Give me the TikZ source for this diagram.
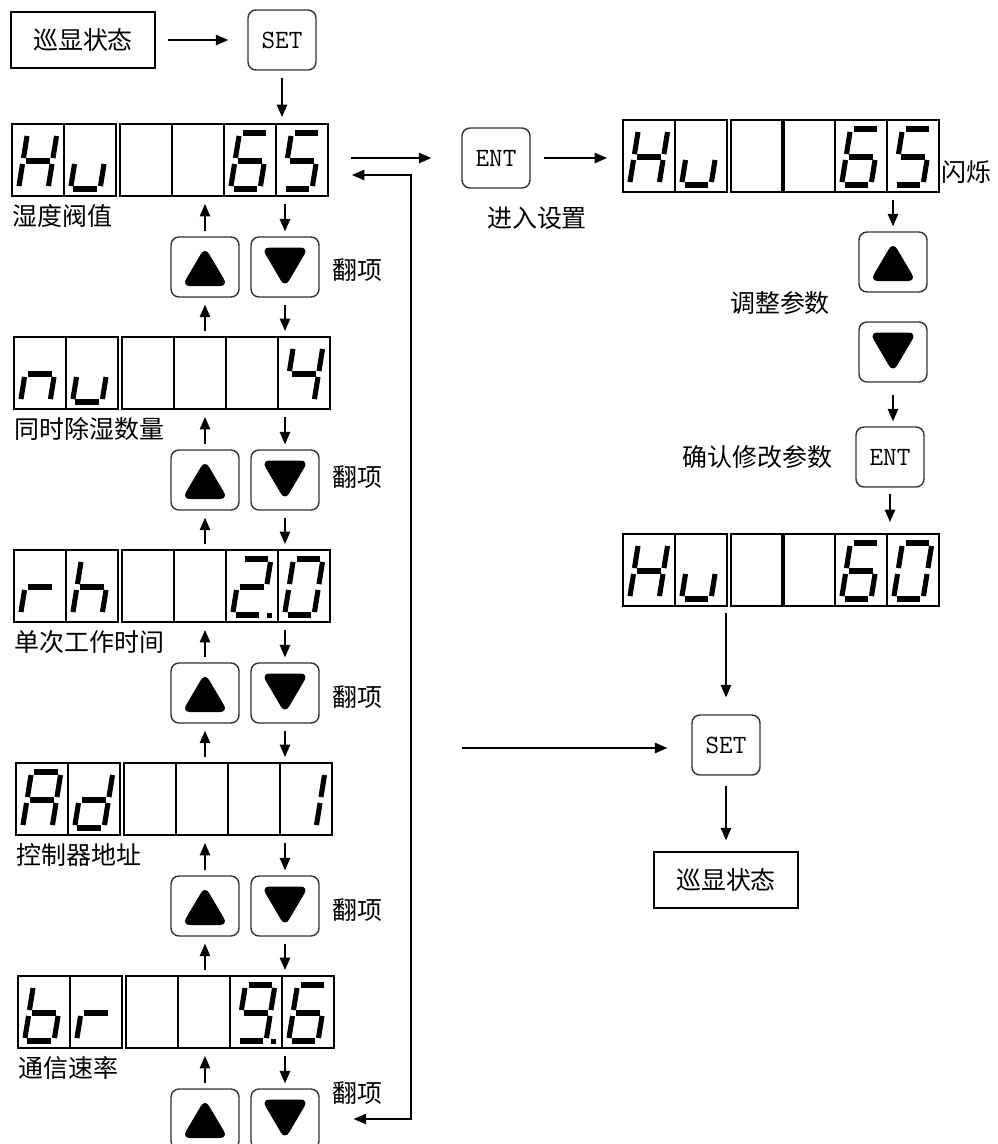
\documentclass[tikz,border=0pt]{standalone}
\usepackage{fontspec}
\setmainfont{Noto Sans CJK SC}
\usetikzlibrary{arrows.meta,positioning}

\newcommand\cjksize{\fontsize{14.2pt}{17pt}\selectfont}
\newcommand\keysize{\fontsize{15pt}{17pt}\selectfont}

% one segment of a seven-segment digit (a..g, p = decimal point)
\newcommand\lcdseg[1]{%
  \if#1a\draw[segline] (TL) -- (TR);\fi
  \if#1b\draw[segline] (TR) -- (MR);\fi
  \if#1c\draw[segline] (MR) -- (BR);\fi
  \if#1d\draw[segline] (BL) -- (BR);\fi
  \if#1e\draw[segline] (ML) -- (BL);\fi
  \if#1f\draw[segline] (TL) -- (ML);\fi
  \if#1g\draw[segline] (ML) -- (MR);\fi
  \if#1p\fill (DP) rectangle ++(5,-5);\fi
}

% display: 2 + 4 cells, top left corner at (#3,#4)
\newcommand\lcd[5][]{%
  \node[lcdbox, anchor=north west] (#2) at (#3,#4) {};
  \draw[lcdline] (#3,#4) rectangle ++(104,72);
  \draw[lcdline] (#3+108,#4) rectangle ++(208,72);
  \draw[lcdline] (#3+52,#4) -- ++(0,72);
  \draw[lcdline,#1] (#3+160,#4) -- ++(0,72);
  \draw[lcdline] (#3+212,#4) -- ++(0,72);
  \draw[lcdline] (#3+264,#4) -- ++(0,72);
  \foreach \cl [count=\i from 0] in {#5} {
    \pgfmathsetmacro\ox{#3+52*\i+(\i<2 ? 0 : 4)}
    \begin{scope}[shift={(\ox,#4)}]
      \coordinate (TL) at (15.5,9);
      \coordinate (TR) at (45,9);
      \coordinate (ML) at (11,37);
      \coordinate (MR) at (40.5,37);
      \coordinate (BL) at (6.5,65);
      \coordinate (BR) at (36,65);
      \coordinate (DP) at (40.5,67.5);
      \foreach \s in \cl {\lcdseg\s}
    \end{scope}
  }
}

\begin{document}
\begin{tikzpicture}[
    x=0.02cm, y=-0.02cm,
    font=\cjksize,
    arr/.style={
        -{Triangle[length=2.5mm,width=2.1mm]},
        line width=0.8pt
    },
    lcdbox/.style={
        minimum width=6.32cm,
        minimum height=1.44cm,
        inner sep=0pt,
        outer sep=0pt
    },
    lcdline/.style={line width=0.8pt},
    thickdiv/.style={line width=1.8pt},
    segline/.style={
        line width=2.9pt,
        shorten <=0.6mm,
        shorten >=0.6mm
    },
    plain/.style={
        draw,
        line width=0.8pt,
        minimum width=2.88cm,
        minimum height=1.12cm,
        inner sep=0pt
    },
    keybase/.style={
        draw=black!80,
        rounded corners=1.6mm,
        minimum width=1.36cm,
        minimum height=1.2cm,
        inner sep=0pt,
        line width=0.8pt
    },
    key/.style={keybase, font=\ttfamily\keysize},
    upkey/.style={
        keybase,
        path picture={
            \fill ([shift={(-0.46cm,-0.38cm)}]path picture bounding box.center)
                -- ++(0.92cm,0cm) -- ++(-0.46cm,0.78cm) -- cycle;
        }
    },
    downkey/.style={
        keybase,
        path picture={
            \fill ([shift={(-0.47cm,0.39cm)}]path picture bounding box.center)
                -- ++(0.94cm,0cm) -- ++(-0.47cm,-0.8cm) -- cycle;
        }
    },
    lbl/.style={inner sep=0pt}
]
\useasboundingbox (0,0) rectangle (998,1144);

% Entry
\node[plain] (idle1) at (83,40) {巡显状态};
\node[key] (set1) at (282,40) {SET};
\draw[arr, shorten <=2.4mm, shorten >=3.8mm] (idle1) -- (set1);

% Parameter list
\lcd{d1}{12}{124}{{b,c,e,f,g},{c,d,e},x,x,{a,c,d,e,f,g},{a,c,d,f,g}}
\lcd{d2}{14}{337}{{c,e,g},{c,d,e},x,x,x,{b,c,f,g}}
\lcd{d3}{14}{550}{{e,g},{c,e,f,g},x,x,{a,b,d,e,g,p},{a,b,c,d,e,f}}
\lcd{d4}{16}{763}{{a,b,c,e,f,g},{b,c,d,e,g},x,x,x,{b,c}}
\lcd{d5}{18}{976}{{c,d,e,f,g},{e,g},x,x,{a,b,c,d,f,g,p},{a,c,d,e,f,g}}

\draw[arr, shorten <=1.4mm, shorten >=1.4mm] (set1) -- (set1 |- d1.north);

\node[lbl, below right=1.7mm and 0mm of d1.south west] (l1) {湿度阀值};
\node[lbl, below right=1.7mm and 0mm of d2.south west] (l2) {同时除湿数量};
\node[lbl, below right=1.7mm and 0mm of d3.south west] (l3) {单次工作时间};
\node[lbl, below right=1.7mm and 0mm of d4.south west] (l4) {控制器地址};
\node[lbl, below right=1.7mm and 0mm of d5.south west] (l5) {通信速率};

% Up / down keys under each display
\foreach \n/\y/\fy in {1/124/146,2/337/140,3/550/147,4/763/147,5/976/117} {
    \node[upkey] (up\n) at (205,\y+143) {};
    \node[downkey] (dn\n) at (285,\y+143) {};
    \node[lbl, anchor=west] (fx\n) at (332,\y+\fy) {翻项};
}

\foreach \n in {1,...,5} {
    \draw[arr, shorten <=1mm, shorten >=1.6mm] (up\n) -- (up\n |- d\n.south);
    \draw[arr, shorten <=1.6mm, shorten >=1mm] (dn\n |- d\n.south) -- (dn\n);
}
\foreach \n/\m in {1/2,2/3,3/4,4/5} {
    \draw[arr, shorten <=1.2mm, shorten >=1.4mm] (up\n |- d\m.north) -- (up\n);
    \draw[arr, shorten <=1.4mm, shorten >=1.2mm] (dn\n) -- (dn\n |- d\m.north);
}

% Return line
\coordinate (back) at (411,175);
\draw[{Triangle[length=2.5mm,width=2.1mm]}-{Triangle[length=2.5mm,width=2.1mm]},
    line width=0.8pt, shorten <=6.8mm, shorten >=4.8mm]
    (dn5) -| (back) -- (d1.east |- back);

% Setting
\node[key] (ent1) at (496,158) {ENT};
\draw[arr, shorten <=4.6mm, shorten >=6mm] (d1.east |- ent1) -- (ent1);
\node[lbl] (l6) at (537,218) {进入设置};

\lcd[thickdiv]{r1}{623}{120}{{b,c,e,f,g},{c,d,e},x,x,{a,c,d,e,f,g},{a,c,d,f,g}}
\draw[arr, shorten <=2.6mm, shorten >=3.2mm] (ent1) -- (ent1 -| r1.west);
\node[lbl, anchor=west] (l7) at (941,172) {闪烁};

\node[upkey] (up6) at (893,262) {};
\node[downkey] (dn6) at (893,352) {};
\draw[arr, shorten <=1.6mm, shorten >=1mm] (up6 |- r1.south) -- (up6);
\node[lbl] (l8) at (780,303) {调整参数};

\node[key] (ent2) at (890,457) {ENT};
\draw[arr, shorten <=2.4mm, shorten >=1mm] (dn6) -- (dn6 |- ent2.north);
\node[lbl, anchor=east] (l9) at (833,457) {确认修改参数};

\lcd[thickdiv]{r2}{623}{534}{{b,c,e,f,g},{c,d,e},x,x,{a,c,d,e,f,g},{a,b,c,d,e,f}}
\draw[arr, shorten <=1.2mm, shorten >=2.4mm] (ent2) -- (ent2 |- r2.north);

% Exit
\node[key] (set2) at (726,745) {SET};
\draw[arr, shorten <=1.4mm, shorten >=3.4mm] (set2 |- r2.south) -- (set2);
\coordinate (skip) at (462,748);
\draw[arr, shorten >=4.8mm] (skip) -- (skip -| set2.west);
\node[plain] (idle2) at (726,880) {巡显状态};
\draw[arr, shorten <=2mm, shorten >=2.2mm] (set2) -- (idle2);

\end{tikzpicture}
\end{document}
